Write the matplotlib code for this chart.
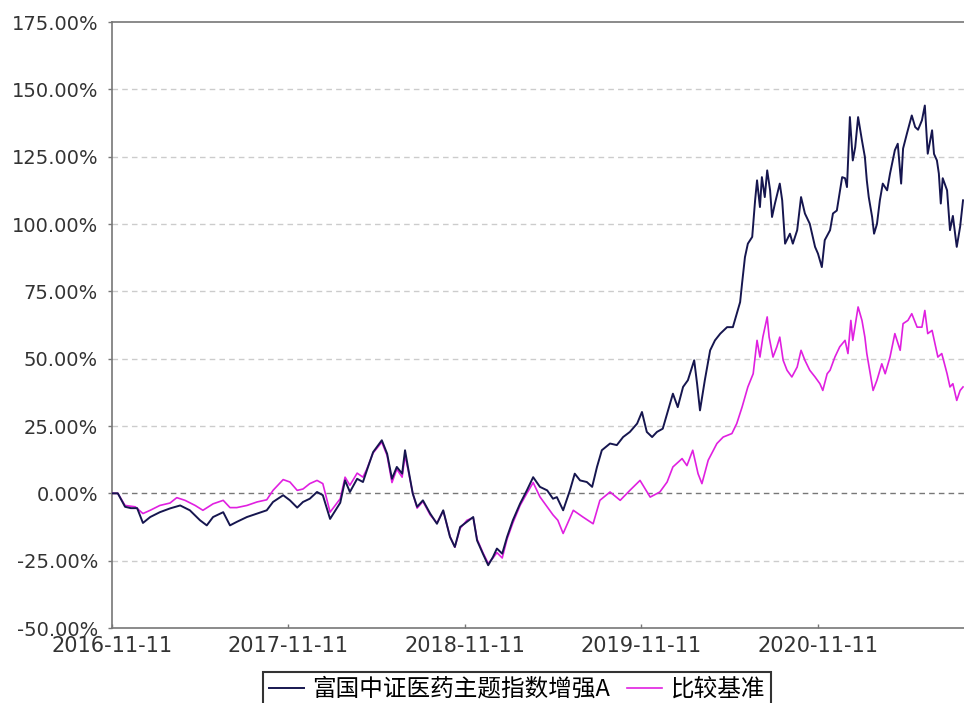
import numpy as np
import pandas as pd
import matplotlib
matplotlib.use("Agg")
import matplotlib.pyplot as plt
from matplotlib.ticker import FixedLocator

# ---- data ----
start = pd.Timestamp("2016-11-11")

fund_days = [0, 12, 27, 39, 52, 64, 79, 99, 120, 141, 161, 182, 196, 209, 230, 244, 258, 279,
             300, 320, 333, 354, 368, 383, 395, 409, 424, 436, 451, 472, 482, 492, 507, 519,
             527, 540, 558, 569, 579, 589, 600, 606, 612, 622, 631, 643, 658, 672, 685, 699,
             709, 720, 734, 747, 755, 767, 778, 788, 796, 807, 817, 829, 844, 858, 871, 885,
             900, 912, 920, 933, 947, 957, 968, 982, 993, 1003, 1013, 1030, 1044, 1057, 1071,
             1086, 1096, 1106, 1117, 1127, 1139, 1150, 1160, 1170, 1181, 1191, 1204, 1210,
             1216, 1226, 1237, 1247, 1258, 1272, 1284, 1292, 1299, 1303, 1309, 1315, 1324,
             1330, 1334, 1340, 1344, 1350, 1355, 1361, 1365, 1371, 1381, 1386, 1392, 1402,
             1408, 1417, 1425, 1433, 1443, 1454, 1460, 1468, 1474, 1485, 1491, 1499, 1510,
             1516, 1520, 1526, 1532, 1537, 1543, 1551, 1557, 1561, 1565, 1572, 1576, 1582,
             1588, 1594, 1603, 1609, 1619, 1625, 1632, 1636, 1644, 1654, 1661, 1667, 1675,
             1681, 1687, 1696, 1700, 1706, 1710, 1714, 1718, 1727, 1729, 1733, 1739, 1747,
             1754, 1760]
fund_vals = [0, 0, -5, -5.5, -5.5, -11, -8.8, -7, -5.6, -4.5, -6.3, -10, -11.9, -8.8, -7, -11.9,
             -10.6, -8.8, -7.5, -6.3, -3.2, -0.7, -2.6, -5.3, -3.2, -2, 0.5, -0.7, -9.5, -3.5,
             4.8, 0.5, 5.4, 4.2, 8.5, 15.3, 19.7, 14.7, 5.4, 9.8, 7.3, 16, 9.8, -0.1, -5, -2.6,
             -7.5, -11.3, -6.3, -16.2, -19.9, -12.5, -10.6, -8.8, -17.5, -22.4, -26.7, -23.6,
             -20.5, -22.4, -16.2, -10, -3.8, 1.1, 6, 2.4, 1.1, -2, -1.4, -6.3, 1.1, 7.3, 4.8,
             4.2, 2.4, 9.8, 16, 18.5, 17.9, 20.9, 22.8, 25.9, 30.2, 22.8, 20.9, 22.8, 24, 30.8,
             37, 32, 39.5, 42, 49.4, 40.7, 30.8, 42, 53.1, 56.8, 59.3, 61.7, 61.7, 66.7, 71,
             77.9, 87.7, 92.7, 95.2, 108.8, 116.2, 106.3, 117.4, 110, 119.9, 112.5, 102.6,
             107.6, 115, 108.8, 92.7, 96.4, 92.7, 97.7, 110, 103.9, 100.1, 91.5, 89, 84, 94,
             97.7, 103.9, 105, 117.4, 117, 113.7, 139.7, 123.6, 128.5, 139.7, 131, 124.9,
             116.2, 110, 102.6, 96.4, 100, 108.8, 115, 112.5, 118.7, 127.4, 129.8, 115, 128,
             133.6, 140.3, 136, 135, 138.5, 144, 126.1, 134.8, 126, 123.6, 118.7, 107.6, 117,
             112.5, 107.6, 97.7, 103, 91.5, 99, 108.8]

bench_days = [0, 12, 27, 48, 64, 79, 99, 120, 134, 151, 172, 188, 209, 230, 244, 258, 279, 300,
              320, 333, 354, 368, 383, 395, 409, 424, 436, 451, 472, 482, 492, 507, 519, 527,
              540, 558, 569, 579, 589, 600, 606, 612, 622, 631, 643, 658, 672, 685, 699, 709,
              720, 734, 747, 755, 767, 778, 788, 796, 807, 817, 829, 844, 858, 871, 885, 900,
              912, 922, 933, 954, 974, 995, 1009, 1030, 1051, 1071, 1092, 1113, 1133, 1148,
              1160, 1179, 1189, 1201, 1212, 1220, 1233, 1251, 1264, 1282, 1292, 1303, 1315,
              1326, 1334, 1340, 1346, 1355, 1359, 1367, 1375, 1381, 1388, 1396, 1406, 1417,
              1425, 1433, 1443, 1454, 1464, 1470, 1479, 1485, 1495, 1505, 1516, 1522, 1528,
              1532, 1543, 1551, 1557, 1561, 1568, 1574, 1582, 1592, 1599, 1609, 1619, 1630,
              1636, 1646, 1654, 1665, 1675, 1681, 1687, 1696, 1702, 1708, 1716, 1727, 1733,
              1739, 1747, 1754, 1760]
bench_vals = [0, 0, -4.5, -5, -7.5, -6.3, -4.5, -3.6, -1.6, -2.6, -4.5, -6.3, -3.9, -2.6, -5.3,
              -5.3, -4.5, -3.2, -2.4, 1.1, 5.1, 4.2, 1.1, 1.6, 3.6, 4.8, 3.6, -7, -2, 6, 3, 7.5,
              6, 9, 15, 19, 14, 4, 9, 6, 14, 9, 0, -5.5, -3, -8, -11, -6.5, -16, -20, -13, -10,
              -9, -17, -22, -26, -24, -22, -24, -17, -11, -4.5, 0, 4, -1.3, -5, -8, -10, -14.9,
              -6.3, -8.8, -11.3, -2.6, 0.5, -2.6, 1.1, 4.8, -1.4, 0.5, 4.2, 9.8, 12.9, 10.3, 16,
              7.3, 3.6, 12.3, 18.5, 20.9, 22.2, 25.9, 32, 39.5, 44.4, 56.8, 50.6, 58, 65.5, 58,
              50.6, 54.4, 58, 49.4, 45.7, 43.2, 46.9, 53.1, 49.4, 45.7, 43.2, 40.7, 38.2, 44.4,
              45.7, 50.6, 54.4, 56.8, 51.9, 64.2, 56.8, 69.2, 64.2, 58, 51.9, 44.4, 38.2, 42,
              48.1, 44.4, 50.6, 59.3, 53.1, 63, 64.2, 66.7, 61.7, 61.7, 67.9, 59.3, 60.5, 55.6,
              50.6, 51.9, 44.4, 39.5, 40.7, 34.5, 38.2, 39.5]

xtick_labels = ["2016-11-11", "2017-11-11", "2018-11-11", "2019-11-11", "2020-11-11"]
ytick_vals = [-50, -25, 0, 25, 50, 75, 100, 125, 150, 175]

fund_name = "富国中证医药主题指数增强A"
bench_name = "比较基准"

# ---- figure ----
fig = plt.figure(figsize=(9.64, 7.03), dpi=100)
ax = fig.add_axes([112 / 964, 1 - 628 / 703, 1 - 112 / 964, (628 - 22) / 703])

fund_dates = start + pd.to_timedelta(fund_days, unit="D")
bench_dates = start + pd.to_timedelta(bench_days, unit="D")
ax.plot(bench_dates, bench_vals, color="#e020e0", lw=1.2, label=bench_name, zorder=3)
ax.plot(fund_dates, fund_vals, color="#16164f", lw=1.4, label=fund_name, zorder=4)

ax.set_ylim(-50, 175)
ax.set_xlim(start, start + pd.Timedelta(days=1762))

xt = [pd.Timestamp(s) for s in xtick_labels]
ax.set_xticks(xt)
ax.set_xticklabels(xtick_labels)
ax.yaxis.set_major_locator(FixedLocator(ytick_vals))
ax.set_yticklabels(["%.2f%%" % v for v in ytick_vals])

ax.tick_params(axis="y", direction="out", length=3, width=1, color="#777777",
               labelsize=14, labelcolor="#333333", pad=7)
ax.tick_params(axis="x", direction="in", length=3, width=1, color="#777777",
               labelsize=15, labelcolor="#333333", pad=6)

for v in ytick_vals:
    if v == 0:
        ax.axhline(v, color="#777777", lw=1, ls=(0, (4, 3)), zorder=1)
    elif v not in (-50, 175):
        ax.axhline(v, color="#cccccc", lw=1, ls=(0, (4, 3)), zorder=1)

for s in ["left", "bottom", "top"]:
    ax.spines[s].set_color("#777777")
    ax.spines[s].set_linewidth(1.2)
ax.spines["right"].set_visible(False)

handles, labels = ax.get_legend_handles_labels()
leg = fig.legend(handles[::-1], labels[::-1], loc="upper center",
                 bbox_to_anchor=(517 / 964, 1 - 672 / 703), ncol=2, frameon=True,
                 fancybox=False, edgecolor="black", handlelength=1.5, handletextpad=0.35,
                 columnspacing=0.7, borderpad=0.25, borderaxespad=0,
                 prop={"family": ["Noto Sans CJK SC", "DejaVu Sans"], "size": 17})
leg.get_frame().set_linewidth(1.5)

fig.savefig("out.png", dpi=100)
